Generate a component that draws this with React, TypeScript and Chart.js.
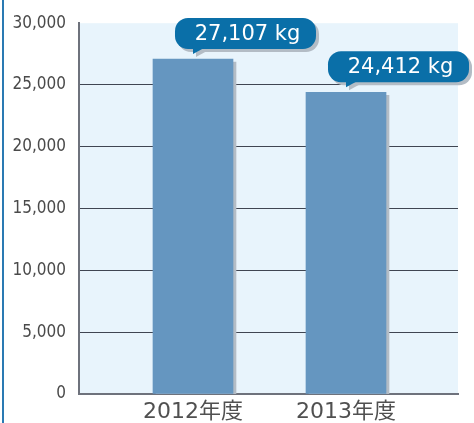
import React, { useEffect, useRef } from 'react';
import { Chart, registerables } from 'chart.js';

Chart.register(...registerables);

const categories: string[] = ['2012年度', '2013年度'];
const values: number[] = [27107, 24412];
const valueLabels: string[] = ['27,107 kg', '24,412 kg'];
const yMin = 0;
const yMax = 30000;
const yStep = 5000;

export default function App() {
  const ref = useRef<HTMLCanvasElement>(null);

  useEffect(() => {
    const canvas = ref.current;
    if (!canvas) return;

    const bgPlugin = {
      id: 'bgPlugin',
      beforeDraw(chart: any) {
        const { ctx, chartArea: a } = chart;
        ctx.save();
        ctx.fillStyle = '#ffffff';
        ctx.fillRect(0, 0, chart.width, chart.height);
        ctx.fillStyle = '#e8f4fc';
        ctx.fillRect(a.left, a.top, a.right - a.left, a.bottom - a.top);
        ctx.fillStyle = '#2a7ab3';
        ctx.fillRect(2, 0, 2, chart.height);
        ctx.restore();
      },
    };

    const shadowPlugin = {
      id: 'barShadow',
      beforeDatasetDraw(chart: any) {
        const ctx = chart.ctx;
        ctx.save();
        ctx.shadowColor = '#b3bcc5';
        ctx.shadowOffsetX = 3;
        ctx.shadowOffsetY = 3;
        ctx.shadowBlur = 0;
      },
      afterDatasetDraw(chart: any) {
        chart.ctx.restore();
      },
    };

    const drawBubble = (ctx: any, bx: number, by: number, left: number, top: number, w: number, h: number, dx: number, dy: number, color: string) => {
      const bottom = top + h;
      ctx.fillStyle = color;
      ctx.beginPath();
      ctx.roundRect(left + dx, top + dy, w, h, 13);
      ctx.fill();
      ctx.beginPath();
      ctx.moveTo(bx + dx, bottom - 4 + dy);
      ctx.lineTo(bx + dx, by - 5 + dy);
      ctx.lineTo(bx + 11 + dx, bottom - 1 + dy);
      ctx.lineTo(bx + 11 + dx, bottom - 4 + dy);
      ctx.closePath();
      ctx.fill();
    };

    const calloutPlugin = {
      id: 'callout',
      afterDraw(chart: any) {
        const ctx = chart.ctx;
        const meta = chart.getDatasetMeta(0);
        meta.data.forEach((el: any, i: number) => {
          const bx = el.x;
          const by = el.y;
          const w = 141;
          const h = 31;
          const left = bx - 18;
          const top = by - 10 - h;
          ctx.save();
          drawBubble(ctx, bx, by, left, top, w, h, 3, 3, '#b3bcc5');
          drawBubble(ctx, bx, by, left, top, w, h, 0, 0, '#0a6fa8');
          ctx.fillStyle = '#ffffff';
          ctx.font = '21px "DejaVu Sans", sans-serif';
          ctx.textAlign = 'center';
          ctx.textBaseline = 'middle';
          ctx.fillText(valueLabels[i], left + w / 2 + 2, top + h / 2 + 1);
          ctx.restore();
        });
      },
    };

    const chart = new Chart(canvas, {
      type: 'bar',
      data: {
        datasets: [
          {
            data: values.map((v, i) => ({ x: i, y: v })),
            backgroundColor: '#6596c0',
            barThickness: 80,
            borderWidth: 0,
          },
        ],
      },
      options: {
        responsive: false,
        animation: false,
        layout: { padding: { top: 22, right: 16, left: 0, bottom: 0 } },
        plugins: {
          legend: { display: false },
          tooltip: { enabled: false },
        },
        scales: {
          x: {
            type: 'linear',
            offset: false,
            min: -0.745,
            max: 1.732,
            afterBuildTicks(scale: any) {
              scale.ticks = categories.map((_, i) => ({ value: i }));
            },
            afterFit(scale: any) {
              scale.height = 29;
            },
            grid: { display: false, drawTicks: false, offset: false },
            border: { display: true, color: '#6e727c', width: 2 },
            ticks: {
              autoSkip: false,
              maxRotation: 0,
              padding: 5,
              color: '#505050',
              font: { family: '"DejaVu Sans", "Noto Sans CJK JP", sans-serif', size: 22 },
              callback: (v: any) => categories[v as number] ?? '',
            },
          },
          y: {
            min: yMin,
            max: yMax,
            afterFit(scale: any) {
              scale.width = 79;
            },
            grid: {
              drawTicks: false,
              lineWidth: 1,
              color: (c: any) =>
                c.tick && (c.tick.value === yMin || c.tick.value === yMax) ? 'rgba(0,0,0,0)' : '#3f4552',
            },
            border: { display: true, color: '#6e727c', width: 2 },
            ticks: {
              stepSize: yStep,
              padding: 13,
              color: '#4a4a4a',
              font: { family: '"DejaVu Sans Condensed", "Liberation Sans Narrow", "DejaVu Sans", sans-serif', size: 17 },
              callback: (v: any) => Number(v).toLocaleString('en-US'),
            },
          },
        },
      },
      plugins: [bgPlugin, shadowPlugin, calloutPlugin],
    } as any);

    return () => chart.destroy();
  }, []);

  return (
    <div style={{ position: 'fixed', left: 0, top: 0, width: 474, height: 423, background: '#fff' }}>
      <canvas ref={ref} width={474} height={423} style={{ width: 474, height: 423, display: 'block' }} />
    </div>
  );
}
